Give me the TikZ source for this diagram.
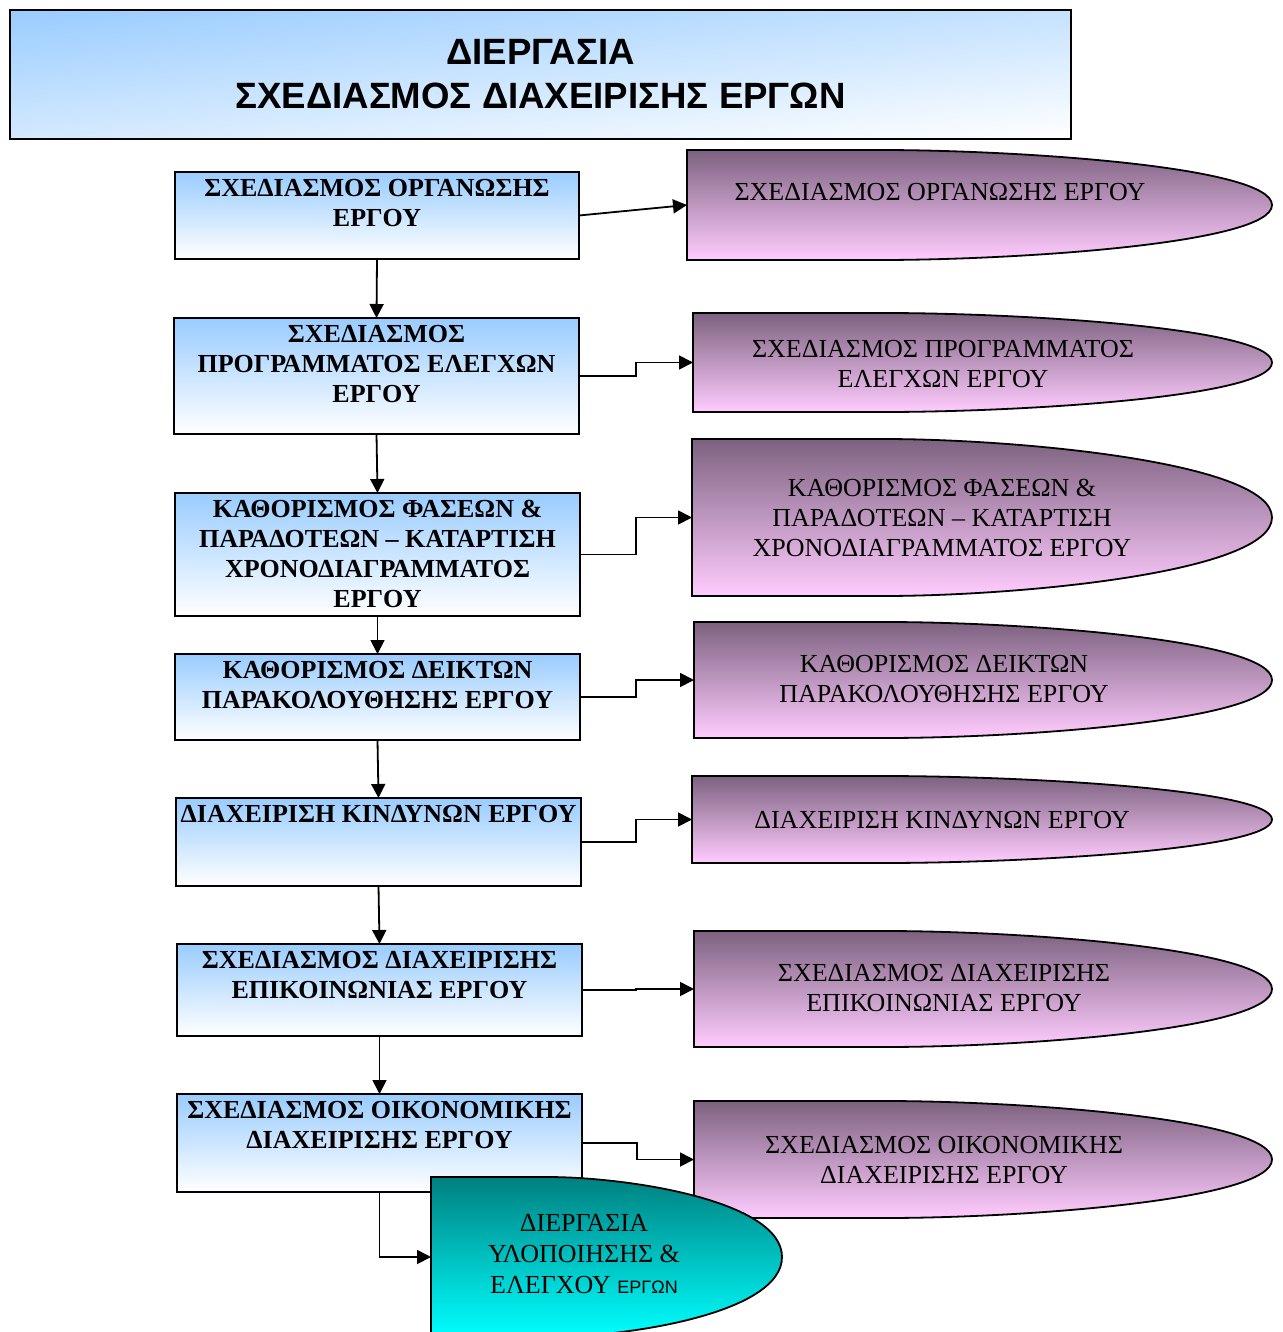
\documentclass[tikz,border=0pt]{standalone}
\usepackage{fontspec}
\setmainfont{Liberation Serif}
\newfontfamily\headfont{Liberation Sans}
\usetikzlibrary{arrows.meta}

\definecolor{stageblue}{HTML}{99CCFF}
\definecolor{mauvetop}{HTML}{7D6280}
\definecolor{mauvebottom}{HTML}{FFCCFF}
\definecolor{tealtop}{HTML}{008080}
\definecolor{tealbottom}{HTML}{00FFFF}

% diagonal fade for the heading: light blue at the top left corner, white at the bottom right
\pgfdeclarefunctionalshading{titlefade}{\pgfpoint{0bp}{0bp}}{\pgfpoint{100bp}{100bp}}{}{
  -0.0114 mul exch 0.0086 mul add 0.64 add
  dup 0.4 mul 0.6 add exch dup 0.2 mul 0.8 add exch pop 1
}

% tab-like outline: flat left side, straight top/bottom run, rounded right end
% #1 style, #2 area node, #3 straight run, #4 curved run, #5 half height
\newcommand\tabshape[5]{%
  \path[#1] (#2.north west) -- ++(#3,0)
    .. controls +({0.35*#4},0) and +(0,{0.7*#5}) .. (#2.east)
    .. controls +(0,{-0.7*#5}) and +({0.35*#4},0) .. ++({-#4},{-#5})
    -- (#2.south west) -- cycle;}

\tikzset{
  headbox/.style={draw=black, line width=1.4pt, shade, shading=titlefade,
    align=center, inner sep=0pt,
    font=\headfont\bfseries\fontsize{18.3}{22}\selectfont},
  stage/.style={draw=black, line width=0.9pt, top color=stageblue, bottom color=white,
    inner sep=0pt, outer sep=0pt},
  stagetext/.style={anchor=north, align=center, inner sep=0pt, yshift=-3.5pt,
    font=\bfseries\fontsize{13}{15}\selectfont},
  area/.style={inner sep=0pt, outer sep=0pt},
  mauvefill/.style={draw=black, line width=0.9pt, top color=mauvetop, bottom color=mauvebottom},
  tealfill/.style={draw=black, line width=0.9pt, top color=tealtop, bottom color=tealbottom},
  outcometext/.style={align=center, inner sep=0pt, font=\fontsize{13}{15}\selectfont},
  link/.style={draw=black, line width=0.9pt, -{Triangle[length=7pt,width=7pt]}}
}

\begin{document}
\begin{tikzpicture}[x=0.5pt,y=0.5pt]
\useasboundingbox (0,0) rectangle (1282,-1332);
\fill[white] (0,0) rectangle (1282,-1332);
\clip (0,0) rectangle (1282,-1332);

% heading
\node[headbox, minimum width=530.5pt, minimum height=64.5pt] (head) at (540.5,-74.5)
  {ΔΙΕΡΓΑΣΙΑ\\ΣΧΕΔΙΑΣΜΟΣ ΔΙΑΧΕΙΡΙΣΗΣ ΕΡΓΩΝ};

% planning steps
\node[stage, minimum width=202pt,   minimum height=43.5pt] (b1) at (377,-215.5) {};
\node[stage, minimum width=202.5pt, minimum height=58pt]   (b2) at (376.5,-376) {};
\node[stage, minimum width=202.5pt, minimum height=61.5pt] (b3) at (377.5,-554.5) {};
\node[stage, minimum width=202.5pt, minimum height=43pt]   (b4) at (377.5,-697) {};
\node[stage, minimum width=202.5pt, minimum height=44pt]   (b5) at (378.5,-842) {};
\node[stage, minimum width=202.5pt, minimum height=46pt]   (b6) at (379.5,-990) {};
\node[stage, minimum width=202.5pt, minimum height=49pt]   (b7) at (379.5,-1143) {};

\node[stagetext] (b1t) at (b1.north) {ΣΧΕΔΙΑΣΜΟΣ ΟΡΓΑΝΩΣΗΣ\\ΕΡΓΟΥ};
\node[stagetext] (b2t) at (b2.north) {ΣΧΕΔΙΑΣΜΟΣ\\ΠΡΟΓΡΑΜΜΑΤΟΣ ΕΛΕΓΧΩΝ\\ΕΡΓΟΥ};
\node[stagetext] (b3t) at (b3.north) {ΚΑΘΟΡΙΣΜΟΣ ΦΑΣΕΩΝ \&\\ΠΑΡΑΔΟΤΕΩΝ – ΚΑΤΑΡΤΙΣΗ\\ΧΡΟΝΟΔΙΑΓΡΑΜΜΑΤΟΣ\\ΕΡΓΟΥ};
\node[stagetext] (b4t) at (b4.north) {ΚΑΘΟΡΙΣΜΟΣ ΔΕΙΚΤΩΝ\\ΠΑΡΑΚΟΛΟΥΘΗΣΗΣ ΕΡΓΟΥ};
\node[stagetext] (b5t) at (b5.north) {ΔΙΑΧΕΙΡΙΣΗ ΚΙΝΔΥΝΩΝ ΕΡΓΟΥ};
\node[stagetext] (b6t) at (b6.north) {ΣΧΕΔΙΑΣΜΟΣ ΔΙΑΧΕΙΡΙΣΗΣ\\ΕΠΙΚΟΙΝΩΝΙΑΣ ΕΡΓΟΥ};
\node[stagetext] (b7t) at (b7.north) {ΣΧΕΔΙΑΣΜΟΣ ΟΙΚΟΝΟΜΙΚΗΣ\\ΔΙΑΧΕΙΡΙΣΗΣ ΕΡΓΟΥ};

% outcome areas
\node[area, minimum width=292.5pt, minimum height=55pt]   (e1) at (979.5,-205) {};
\node[area, minimum width=289.5pt, minimum height=49.5pt] (e2) at (982.5,-362.5) {};
\node[area, minimum width=290pt,   minimum height=78.5pt] (e3) at (982,-517.5) {};
\node[area, minimum width=289pt,   minimum height=58pt]   (e4) at (983,-680) {};
\node[area, minimum width=290pt,   minimum height=43.5pt] (e5) at (982,-819.5) {};
\node[area, minimum width=289pt,   minimum height=58pt]   (e6) at (983,-989) {};
\node[area, minimum width=289pt,   minimum height=58.5pt] (e7) at (983,-1159.5) {};

\tabshape{mauvefill}{e1}{193}{392}{55}
\tabshape{mauvefill}{e2}{191}{388}{49.5}
\tabshape{mauvefill}{e3}{191}{389}{78.5}
\tabshape{mauvefill}{e4}{191}{387}{58}
\tabshape{mauvefill}{e5}{191}{389}{43.5}
\tabshape{mauvefill}{e6}{191}{387}{58}
\tabshape{mauvefill}{e7}{191}{387}{58.5}

\node[outcometext] (e1t) at (940,-192) {ΣΧΕΔΙΑΣΜΟΣ ΟΡΓΑΝΩΣΗΣ ΕΡΓΟΥ};
\node[outcometext] (e2t) at (943,-364.5) {ΣΧΕΔΙΑΣΜΟΣ ΠΡΟΓΡΑΜΜΑΤΟΣ\\ΕΛΕΓΧΩΝ ΕΡΓΟΥ};
\node[outcometext] (e3t) at (942,-517.5) {ΚΑΘΟΡΙΣΜΟΣ ΦΑΣΕΩΝ \&\\ΠΑΡΑΔΟΤΕΩΝ – ΚΑΤΑΡΤΙΣΗ\\ΧΡΟΝΟΔΙΑΓΡΑΜΜΑΤΟΣ ΕΡΓΟΥ};
\node[outcometext] (e4t) at (944,-679.5) {ΚΑΘΟΡΙΣΜΟΣ ΔΕΙΚΤΩΝ\\ΠΑΡΑΚΟΛΟΥΘΗΣΗΣ ΕΡΓΟΥ};
\node[outcometext] (e5t) at (942,-820) {ΔΙΑΧΕΙΡΙΣΗ ΚΙΝΔΥΝΩΝ ΕΡΓΟΥ};
\node[outcometext] (e6t) at (944,-988.5) {ΣΧΕΔΙΑΣΜΟΣ ΔΙΑΧΕΙΡΙΣΗΣ\\ΕΠΙΚΟΙΝΩΝΙΑΣ ΕΡΓΟΥ};
\node[outcometext] (e7t) at (944,-1160) {ΣΧΕΔΙΑΣΜΟΣ ΟΙΚΟΝΟΜΙΚΗΣ\\ΔΙΑΧΕΙΡΙΣΗΣ ΕΡΓΟΥ};

% flow down the steps
\draw[link] (b1.south) -- (b2.north);
\draw[link] (b2.south) -- (b3.north);
\draw[link] (b3.south) -- (b4.north);
\draw[link] (b4.south) -- (b5.north);
\draw[link] (b5.south) -- (b6.north);
\draw[link] (b6.south) -- (b7.north);

% each step to its outcome
\draw[link] (b1.east) -- (e1.west);
\draw[link] (b2.east) -- ++(57,0) |- (e2.west);
\draw[link] (b3.east) -- ++(56,0) |- (e3.west);
\draw[link] (b4.east) -- ++(56,0) |- (e4.west);
\draw[link] (b5.east) -- ++(55,0) |- (e5.west);
\draw[link] (b6.east) -- ++(54,0) |- (e6.west);
\draw[link] (b7.east) -- ++(55,0) |- (e7.west);

% next process
\node[area, minimum width=175.5pt, minimum height=80pt] (t) at (606.5,-1257) {};
\tabshape{tealfill}{t}{116}{235}{80}
\node[outcometext, font=\fontsize{13}{15.5}\selectfont] (tt) at (584,-1254)
  {ΔΙΕΡΓΑΣΙΑ\\ΥΛΟΠΟΙΗΣΗΣ \&\\ΕΛΕΓΧΟΥ {\headfont\fontsize{9}{15.5}\selectfont ΕΡΓΩΝ}};
\draw[link] (b7.south) |- (t.west);
\end{tikzpicture}
\end{document}
